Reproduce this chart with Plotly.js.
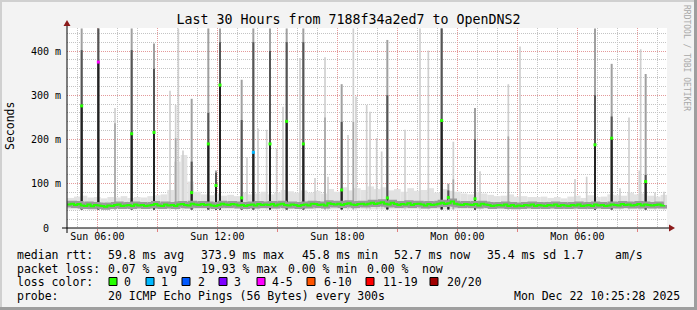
<!DOCTYPE html>
<html><head><meta charset="utf-8">
<script src="https://cdn.plot.ly/plotly-3.0.1.min.js"></script>
<style>html,body{margin:0;padding:0;background:#f3f3f3;}#chart{width:697px;height:310px;}</style>
</head><body><div id="chart"></div>
<script>
// ---------- DATA ----------
const rangeStart = '2025-12-21 04:29:00';
const rangeEnd = '2025-12-22 10:29:00';

// median RTT (ms), one value every 10 minutes from Sun 04:30
const medianStart = '2025-12-21 04:30:00';
const medianStepMin = 10;
const medianRtt = [
 53,55,52,54,51,50,53,49,52,51,
 50,48,51,50,52,53,50,51,52,50,
 53,51,52,50,51,52,54,51,50,53,
 51,52,50,53,54,52,51,55,53,52,
 54,52,53,51,50,52,55,53,52,54,
 53,51,52,50,52,53,51,54,52,53,
 52,54,51,53,55,52,51,53,52,50,
 52,53,51,55,54,52,53,51,56,54,
 53,55,52,54,56,53,52,54,55,53,
 55,57,54,56,58,55,53,57,54,52,
 54,53,56,52,54,55,53,51,54,52,
 53,55,57,54,56,60,55,53,52,54,
 53,52,54,51,55,53,52,50,51,52,
 51,53,50,52,49,51,50,52,51,53,
 50,52,51,50,52,51,53,50,52,51,
 50,52,51,53,50,51,52,50,53,51,
 52,50,51,53,52,51,54,52,53,51,
 52,54,51,53,52,51,52,53,51,52
];

// upper edge of the light smoke (ms), one value every 20 minutes from Sun 04:30
const smokeStart = '2025-12-21 04:30:00';
const smokeStepMin = 20;
const smokeTop = [
 68,71,73,69,70,67,70,69,72,68,
 70,69,72,74,76,86,150,165,105,82,
 76,74,78,73,75,72,80,76,78,82,
 76,80,86,83,80,85,80,84,78,88,
 82,92,85,90,86,94,88,92,85,88,
 82,90,84,86,90,80,88,84,82,78,
 76,82,78,75,72,73,76,71,72,70,
 70,71,68,70,67,71,73,68,74,70,
 71,76,74,73,80,76,78,73,71,75
];

// tall spikes where the median itself jumped
const tallTime = ['2025-12-21 05:13','2025-12-21 06:03','2025-12-21 07:43','2025-12-21 08:50','2025-12-21 10:43',
 '2025-12-21 11:33','2025-12-21 11:56','2025-12-21 12:08','2025-12-21 13:13','2025-12-21 13:48',
 '2025-12-21 14:38','2025-12-21 15:28','2025-12-21 16:18','2025-12-21 18:13','2025-12-21 20:30',
 '2025-12-21 23:13','2025-12-21 23:33','2025-12-22 00:53','2025-12-22 06:53','2025-12-22 07:43','2025-12-22 09:25'];
const tallMedian = [276,375,213,216,80,190,96,323,68,171,190,241,190,86,68,243,69,66,188,203,105];
const tallUpper  = [402,451,402,360,150,260,125,420,244,420,400,420,420,240,300,451,85,200,300,252,120];
const tallMax    = [451,451,451,417,292,451,130,451,335,451,451,451,451,325,425,451,100,271,451,371,348];
const tallLoss   = [0,4,0,0,0,0,0,0,0,1,0,0,0,0,0,0,0,0,0,0,0];

// isolated high pings (light smoke only)
const outTime = ['2025-12-21 06:53','2025-12-21 09:38','2025-12-21 09:55','2025-12-21 10:03','2025-12-21 10:17',
 '2025-12-21 13:29','2025-12-21 14:02','2025-12-21 14:28','2025-12-21 14:58','2025-12-21 15:17',
 '2025-12-21 16:08','2025-12-21 16:53','2025-12-21 17:23','2025-12-21 17:32','2025-12-21 18:32',
 '2025-12-21 18:48','2025-12-21 18:56','2025-12-21 19:28','2025-12-21 19:38','2025-12-21 19:58',
 '2025-12-21 20:13','2025-12-21 21:23','2025-12-21 22:08','2025-12-21 22:33','2025-12-21 23:48',
 '2025-12-22 01:08','2025-12-22 02:33','2025-12-22 03:08','2025-12-22 05:53','2025-12-22 06:28',
 '2025-12-22 08:08','2025-12-22 08:35','2025-12-22 09:06','2025-12-22 09:10','2025-12-22 09:53','2025-12-22 10:20'];
const outMax = [271,310,278,451,175,160,225,222,180,274,384,113,386,116,210,451,297,278,263,203,
 173,222,451,401,195,128,325,410,111,116,90,250,130,404,80,82];
const outUpper = [237,null,203,null,null,null,null,null,null,null,null,null,250,null,null,240,null,null,null,null,
 null,null,null,null,110,null,207,null,null,null,null,null,null,null,null,null];

const lossLabels = ['0','1','2','3','4-5','6-10','11-19','20/20'];
const lossColors = ['#26ff00','#00b8ff','#0059ff','#7e00ff','#ff00ff','#ff5500','#ff0000','#a10000'];

const titleText = 'Last 30 Hours from 7188f34a2ed7 to OpenDNS2';

// legend text rows: [text, left x in px]
const legendRtt  = [['median rtt:',16],['59.8 ms avg',107],['373.9 ms max',200],['45.8 ms min',301],
  ['52.7 ms now',393],['35.4 ms sd',486],['1.7',562],['am/s',614]];
const legendLoss = [['packet loss:',16],['0.07 % avg',107],['19.93 % max',200],['0.00 % min',287],['0.00 %',366],['now',421]];
const legendColorLabel = [['loss color:',16]];
const legendProbe = [['probe:',16],['20 ICMP Echo Pings (56 Bytes) every 300s',107],['Mon Dec 22 10:25:28 2025',513]];

// ---------- HELPERS ----------
function parseT(s){const m=s.match(/(\d+)-(\d+)-(\d+) (\d+):(\d+)/);return Date.UTC(+m[1],+m[2]-1,+m[3],+m[4],+m[5]);}
function series(start, stepMin, n){const t0=parseT(start);const out=[];for(let i=0;i<n;i++)out.push(t0+i*stepMin*60000);return out;}
const MIN = 60000;
const BASE = 42;
const L=67, R=667, T=28, B=228;
const px = p => (p-L)/(R-L);
const py = p => (B-p)/(B-T);
const MONO = 'DejaVu Sans Mono';

const medianX = series(medianStart, medianStepMin, medianRtt.length);
const smokeX = series(smokeStart, smokeStepMin, smokeTop.length);
const tallX = tallTime.map(parseT);
const outX = outTime.map(parseT);

function bars(x, top, color, w){
  return {type:'bar', x:x, y:top.map(v=>v==null?null:v-BASE), base:BASE, width:w, offset:-w/2,
    marker:{color:color, line:{width:0}}, hoverinfo:'skip'};
}

const traces = [
  {type:'bar', x:smokeX, y:smokeTop.map(v=>v-BASE), base:BASE, width:smokeStepMin*MIN, offset:0,
   marker:{color:'#e2e2e2', line:{width:0}}, hoverinfo:'skip'},
  bars(outX, outMax, '#cfcfcf', 5*MIN),
  bars(outX, outUpper, '#a6a6a6', 5*MIN),
  bars(tallX, tallMax, '#a0a0a0', 6*MIN),
  bars(tallX, tallUpper, '#555555', 6*MIN),
  bars(tallX, tallMedian, '#222222', 6*MIN),
  {type:'scatter', mode:'lines', x:medianX, y:medianRtt, line:{color:'#9a9a9a', width:6, shape:'hv'}, hoverinfo:'skip'},
  {type:'scatter', mode:'lines', x:medianX, y:medianRtt, line:{color:lossColors[0], width:2, shape:'hv'}, hoverinfo:'skip'},
  {type:'scatter', mode:'markers', x:tallX, y:tallMedian, marker:{symbol:'square', size:3, color:tallLoss.map(i=>lossColors[i])}, hoverinfo:'skip'}
];

// ---------- ANNOTATIONS / SHAPES ----------
const ann = [];
function txt(text, x, y, size, opts){
  ann.push(Object.assign({text:text, x:px(x), y:py(y), xref:'paper', yref:'paper', xanchor:'left', yanchor:'middle',
    showarrow:false, font:{family:MONO, size:size, color:'#000'}, borderpad:0}, opts||{}));
}
const rowY = [254.5, 268.5, 282, 296];
[legendRtt, legendLoss, legendColorLabel, legendProbe].forEach((row,i)=>row.forEach(s=>txt(s[0], s[1], rowY[i], 11.5)));

const boxX = [109,146,182,219,257,307,366,430];
const labX = [123,160,197,233,271,323,382,446];
const shapes = [];
lossLabels.forEach((lab,i)=>{
  txt(lab, labX[i], rowY[2], 11.5);
  shapes.push({type:'rect', xref:'paper', yref:'paper', x0:px(boxX[i]), x1:px(boxX[i]+8), y0:py(277.5), y1:py(285.5),
    line:{color:'#000', width:1}, fillcolor:lossColors[i]});
});

txt('Seconds', 10, 126, 11.5, {xanchor:'center', textangle:-90});
txt('RRDTOOL / TOBI OETIKER', 687, 58, 8, {xanchor:'center', textangle:90, font:{family:MONO, size:8, color:'#a8a8a8'}});

// axis lines and arrows
shapes.push({type:'line', xref:'paper', yref:'paper', x0:px(62), x1:px(670), y0:py(228), y1:py(228), line:{color:'#000', width:1}});
shapes.push({type:'line', xref:'paper', yref:'paper', x0:px(67), x1:px(67), y0:py(233), y1:py(24), line:{color:'#000', width:1}});
shapes.push({type:'path', xref:'paper', yref:'paper', path:`M ${px(675)} ${py(228)} L ${px(669)} ${py(224.5)} L ${px(669)} ${py(231.5)} Z`,
  fillcolor:'#8b1a1a', line:{color:'#8b1a1a', width:0}});
shapes.push({type:'path', xref:'paper', yref:'paper', path:`M ${px(67)} ${py(20)} L ${px(63.5)} ${py(26)} L ${px(70.5)} ${py(26)} Z`,
  fillcolor:'#8b1a1a', line:{color:'#8b1a1a', width:0}});
// frame
shapes.push({type:'rect', xref:'paper', yref:'paper', x0:px(694), x1:px(697), y0:py(0), y1:py(310), fillcolor:'#9e9e9e', line:{width:0}});
shapes.push({type:'rect', xref:'paper', yref:'paper', x0:px(0), x1:px(697), y0:py(307), y1:py(310), fillcolor:'#9e9e9e', line:{width:0}});
shapes.push({type:'rect', xref:'paper', yref:'paper', x0:px(0), x1:px(694), y0:py(0), y1:py(2), fillcolor:'#d0d0d0', line:{width:0}});
shapes.push({type:'rect', xref:'paper', yref:'paper', x0:px(0), x1:px(2), y0:py(0), y1:py(307), fillcolor:'#d0d0d0', line:{width:0}});

const layout = {
  width:697, height:310, margin:{l:L, r:697-R, t:T, b:310-B, pad:0},
  paper_bgcolor:'#f3f3f3', plot_bgcolor:'#ffffff', showlegend:false, barmode:'overlay',
  title:{text:titleText, x:0.5, xanchor:'center', y:1-19/310, yanchor:'middle', font:{family:MONO, size:13.3, color:'#000'}},
  xaxis:{type:'date', range:[rangeStart, rangeEnd], tickmode:'linear', tick0:'2025-12-21 06:00', dtick:3*3600000,
    ticklabelstep:2, tickformat:'%a %H:%M', tickfont:{family:MONO, size:10, color:'#000'},
    ticks:'outside', ticklen:3, tickcolor:'#e08080', ticklabelstandoff:-4, showline:false, zeroline:false,
    showgrid:true, gridcolor:'#e49a9a', griddash:'1px,1px', gridwidth:1,
    minor:{dtick:3600000, tick0:'2025-12-21 06:00', showgrid:true, gridcolor:'#c4c4c4', griddash:'1px,1px', gridwidth:1, ticks:''}},
  yaxis:{range:[0,452], tickmode:'linear', tick0:0, dtick:100,
    labelalias:{'0':'0\u00a0\u00a0','100':'100 m','200':'200 m','300':'300 m','400':'400 m'},
    tickfont:{family:MONO, size:10, color:'#000'}, ticks:'', showline:false, zeroline:false, ticklabelstandoff:5,
    showgrid:true, gridcolor:'#e49a9a', griddash:'1px,1px', gridwidth:1,
    minor:{dtick:20, tick0:0, showgrid:true, gridcolor:'#c4c4c4', griddash:'1px,1px', gridwidth:1, ticks:''}},
  annotations:ann, shapes:shapes
};
Plotly.newPlot('chart', traces, layout, {staticPlot:true, displayModeBar:false});
</script></body></html>
